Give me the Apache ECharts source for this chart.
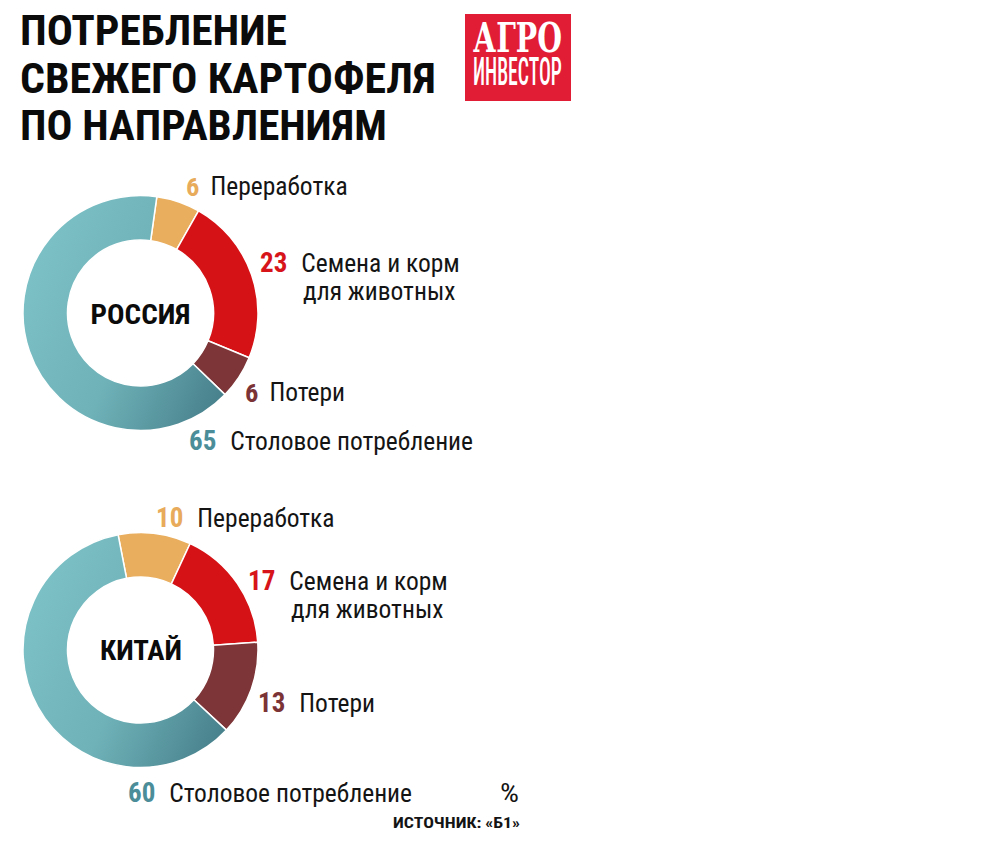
<!DOCTYPE html>
<html>
<head>
<meta charset="utf-8">
<script src="https://cdn.jsdelivr.net/npm/echarts@6/dist/echarts.min.js"></script>
<style>
html,body{margin:0;padding:0;background:#fff;}
#chart{width:984px;height:845px;}
</style>
</head>
<body>
<div id="chart"></div>
<script>
// ---- data ----
const titleLines = ['ПОТРЕБЛЕНИЕ', 'СВЕЖЕГО КАРТОФЕЛЯ', 'ПО НАПРАВЛЕНИЯМ'];
const logoLines = ['АГРО', 'ИНВЕСТОР'];
const categories = ['Переработка', 'Семена и корм\nдля животных', 'Потери', 'Столовое потребление'];
const russiaValues = [6, 23, 6, 65];
const chinaValues = [10, 17, 13, 60];
const regionNames = ['РОССИЯ', 'КИТАЙ'];
const unitLabel = '%';
const sourceLabel = 'ИСТОЧНИК: «Б1»';

// ---- styles ----
const sliceColors = ['#e9ae5e', '#d51317', '#7d3537', null];
const numberColors = ['#e8ab5b', '#d6141a', '#7b3336', '#4b8d98'];
const COND = '"Roboto Condensed", "DejaVu Sans Condensed", sans-serif';

const measureCtx = document.createElement('canvas').getContext('2d');
function fitScale(text, font, target) {
  measureCtx.font = font;
  const w = measureCtx.measureText(text).width;
  return w > 0 ? target / w : 1;
}

function tealGradient() {
  return new echarts.graphic.LinearGradient(0, 0.35, 1, 0.85, [
    { offset: 0, color: '#7cc1c6' },
    { offset: 0.5, color: '#6fb2b8' },
    { offset: 1, color: '#47808b' }
  ]);
}

function buildData(values) {
  return values.map((v, i) => ({
    value: v,
    name: categories[i],
    itemStyle: { color: sliceColors[i] || tealGradient() }
  }));
}

const FS = 25.5, LH = 28;
const rich = { t: { fontFamily: COND, fontSize: FS, color: '#141414', lineHeight: LH }, pad: { width: 43, fontSize: FS, lineHeight: LH } };
numberColors.forEach((c, i) => {
  rich['n' + i + 'a'] = { fontFamily: COND, fontWeight: 'bold', fontSize: 26.5, color: c, padding: [0, 11, 0, 0], lineHeight: LH };
  rich['n' + i + 'b'] = { fontFamily: COND, fontWeight: 'bold', fontSize: 27, color: c, padding: [0, 14, 0, 0], lineHeight: LH };
});

function labelFormatter(p) {
  const lines = p.name.split('\n');
  const key = 'n' + p.dataIndex + (String(p.value).length > 1 ? 'b' : 'a');
  let s = '{' + key + '|' + p.value + '}{t|' + lines[0] + '}';
  for (let k = 1; k < lines.length; k++) s += '\n{pad| }{t|' + lines[k] + '}';
  return s;
}

// label anchor positions (left, top)
const russiaLabelPos = [[186, 172], [260, 249], [245, 378], [189, 427]];
const chinaLabelPos = [[156, 504], [248, 567], [258, 689], [128, 779]];

function pieSeries(values, center, startAngle, labelPos) {
  return {
    type: 'pie',
    center: center,
    radius: [73, 117.5],
    startAngle: startAngle,
    clockwise: true,
    avoidLabelOverlap: false,
    silent: true,
    itemStyle: { borderColor: '#ffffff', borderWidth: 1.5 },
    label: { show: true, position: 'outside', formatter: labelFormatter, rich: rich },
    labelLine: { show: false },
    labelLayout: function (p) {
      const pos = labelPos[p.dataIndex];
      return { x: pos[0], y: pos[1], align: 'left', verticalAlign: 'top' };
    },
    data: buildData(values)
  };
}

function textEl(text, x, y, font, target, fill, align) {
  return {
    type: 'text',
    x: x, y: y,
    scaleX: target ? fitScale(text, font, target) : 1,
    silent: true,
    style: { text: text, font: font, fill: fill, textAlign: align || 'left', align: align || 'left', textVerticalAlign: 'middle', verticalAlign: 'middle' }
  };
}

const titleFont = 'bold 42px ' + COND;
const titleWidths = [267, 416, 367];
const titleY = [30, 78, 126];
const graphics = [];
titleLines.forEach((t, i) => graphics.push(textEl(t, 20, titleY[i], titleFont, titleWidths[i], '#0b0b0b')));

// logo
graphics.push({ type: 'rect', shape: { x: 465, y: 14, width: 106, height: 87 }, style: { fill: '#e11d35' }, silent: true });
graphics.push(textEl(logoLines[0], 473, 38, 'bold 41px "DejaVu Serif Condensed", "DejaVu Serif", serif', 89, '#ffffff'));
graphics.push(textEl(logoLines[1], 473, 71.5, '500 39px ' + COND, 89, '#ffffff'));

// center names
const nameFont = 'bold 28px ' + COND;
graphics.push(textEl(regionNames[0], 140.5, 314.5, nameFont, 100, '#0b0b0b', 'center'));
graphics.push(textEl(regionNames[1], 141, 651, nameFont, 82, '#0b0b0b', 'center'));

// unit and source
graphics.push(textEl(unitLabel, 500, 793, '26px ' + COND, 19, '#141414'));
graphics.push(textEl(sourceLabel, 520, 823, 'bold 15px ' + COND, 127, '#141414', 'right'));

const chart = echarts.init(document.getElementById('chart'), null, { renderer: 'svg' });
chart.setOption({
  animation: false,
  backgroundColor: '#ffffff',
  series: [
    pieSeries(russiaValues, [140.5, 313], 82, russiaLabelPos),
    pieSeries(chinaValues, [140.5, 650], 101, chinaLabelPos)
  ],
  graphic: graphics
});
</script>
</body>
</html>
